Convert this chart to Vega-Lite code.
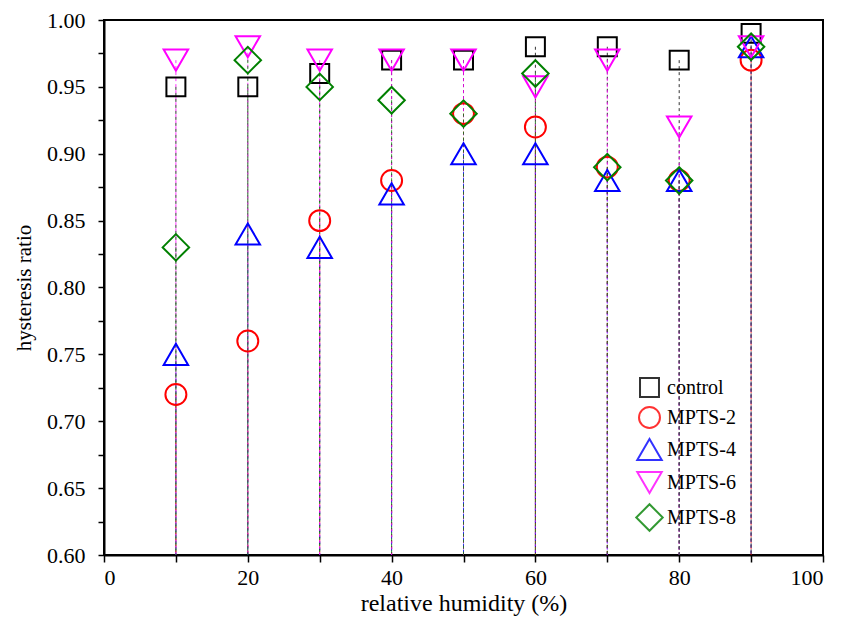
{
  "$schema": "https://vega.github.io/schema/vega-lite/v6.json",
  "width": 719,
  "height": 535,
  "autosize": {"type": "none"},
  "padding": {"left": 104, "top": 20, "right": 20, "bottom": 68},
  "background": "white",
  "config": {
    "font": "Liberation Serif, Times New Roman, serif",
    "view": {"stroke": "black", "strokeWidth": 2}
  },
  "data": {"values": [
    {"rh": 10, "series": "control", "ratio": 0.95},
    {"rh": 20, "series": "control", "ratio": 0.95},
    {"rh": 30, "series": "control", "ratio": 0.96},
    {"rh": 40, "series": "control", "ratio": 0.97},
    {"rh": 50, "series": "control", "ratio": 0.97},
    {"rh": 60, "series": "control", "ratio": 0.98},
    {"rh": 70, "series": "control", "ratio": 0.98},
    {"rh": 80, "series": "control", "ratio": 0.97},
    {"rh": 90, "series": "control", "ratio": 0.99},
    {"rh": 10, "series": "MPTS-2", "ratio": 0.72},
    {"rh": 20, "series": "MPTS-2", "ratio": 0.76},
    {"rh": 30, "series": "MPTS-2", "ratio": 0.85},
    {"rh": 40, "series": "MPTS-2", "ratio": 0.88},
    {"rh": 50, "series": "MPTS-2", "ratio": 0.93},
    {"rh": 60, "series": "MPTS-2", "ratio": 0.92},
    {"rh": 70, "series": "MPTS-2", "ratio": 0.89},
    {"rh": 80, "series": "MPTS-2", "ratio": 0.88},
    {"rh": 90, "series": "MPTS-2", "ratio": 0.97},
    {"rh": 10, "series": "MPTS-4", "ratio": 0.75},
    {"rh": 20, "series": "MPTS-4", "ratio": 0.84},
    {"rh": 30, "series": "MPTS-4", "ratio": 0.83},
    {"rh": 40, "series": "MPTS-4", "ratio": 0.87},
    {"rh": 50, "series": "MPTS-4", "ratio": 0.90},
    {"rh": 60, "series": "MPTS-4", "ratio": 0.90},
    {"rh": 70, "series": "MPTS-4", "ratio": 0.88},
    {"rh": 80, "series": "MPTS-4", "ratio": 0.88},
    {"rh": 90, "series": "MPTS-4", "ratio": 0.98},
    {"rh": 10, "series": "MPTS-6", "ratio": 0.97},
    {"rh": 20, "series": "MPTS-6", "ratio": 0.98},
    {"rh": 30, "series": "MPTS-6", "ratio": 0.97},
    {"rh": 40, "series": "MPTS-6", "ratio": 0.97},
    {"rh": 50, "series": "MPTS-6", "ratio": 0.97},
    {"rh": 60, "series": "MPTS-6", "ratio": 0.95},
    {"rh": 70, "series": "MPTS-6", "ratio": 0.97},
    {"rh": 80, "series": "MPTS-6", "ratio": 0.92},
    {"rh": 90, "series": "MPTS-6", "ratio": 0.98},
    {"rh": 10, "series": "MPTS-8", "ratio": 0.83},
    {"rh": 20, "series": "MPTS-8", "ratio": 0.97},
    {"rh": 30, "series": "MPTS-8", "ratio": 0.95},
    {"rh": 40, "series": "MPTS-8", "ratio": 0.94},
    {"rh": 50, "series": "MPTS-8", "ratio": 0.93},
    {"rh": 60, "series": "MPTS-8", "ratio": 0.96},
    {"rh": 70, "series": "MPTS-8", "ratio": 0.89},
    {"rh": 80, "series": "MPTS-8", "ratio": 0.88},
    {"rh": 90, "series": "MPTS-8", "ratio": 0.98}
  ]},
  "encoding": {
    "x": {"field": "rh", "type": "quantitative", "scale": {"domain": [0, 100], "nice": false},
      "axis": {"title": "relative humidity (%)", "grid": false, "domainColor": "black", "domainWidth": 2, "tickColor": "black", "tickWidth": 1.5, "labelFont": "Liberation Serif, Times New Roman, serif", "titleFont": "Liberation Serif, Times New Roman, serif", "labelFontSize": 22, "titleFontSize": 24, "titleFontWeight": "normal", "labelColor": "black", "titleColor": "black", "values": [0,10,20,30,40,50,60,70,80,90,100], "labelExpr": "datum.value % 20 == 0 ? datum.label : ''", "tickSize": 7, "labelPadding": 5, "titlePadding": 3}},
    "y": {"field": "ratio", "type": "quantitative", "scale": {"domain": [0.6, 1.0], "nice": false, "zero": false},
      "axis": {"title": "hysteresis ratio", "grid": false, "domainColor": "black", "domainWidth": 2, "tickColor": "black", "tickWidth": 1.5, "labelFont": "Liberation Serif, Times New Roman, serif", "titleFont": "Liberation Serif, Times New Roman, serif", "labelFontSize": 22, "titleFontSize": 21, "titleFontWeight": "normal", "labelColor": "black", "titleColor": "black", "values": [0.6,0.625,0.65,0.675,0.7,0.725,0.75,0.775,0.8,0.825,0.85,0.875,0.9,0.925,0.95,0.975,1.0], "labelExpr": "round(datum.value*40) % 2 == 0 ? format(datum.value, '.2f') : ''", "tickSize": 6, "labelPadding": 13, "titlePadding": 12}},
    "color": {"field": "series", "type": "nominal", "sort": ["control","MPTS-2","MPTS-4","MPTS-6","MPTS-8"],
      "scale": {"domain": ["control","MPTS-2","MPTS-4","MPTS-6","MPTS-8"], "range": ["#000000","#ff0000","#0000ff","#ff00ff","#008000"]},
      "legend": {"title": null, "orient": "none", "legendX": 531, "legendY": 357, "labelFont": "Liberation Serif, Times New Roman, serif", "labelFontSize": 20, "labelColor": "black", "symbolStrokeWidth": 2, "symbolFillColor": "transparent", "rowPadding": 2, "labelOffset": 3}}
  },
  "layer": [
    {
      "mark": {"type": "rule", "strokeWidth": 1, "strokeDash": [3, 3], "opacity": 0.8},
      "encoding": {"y2": {"datum": 0.6}}
    },
    {
      "mark": {"type": "point", "filled": false, "strokeWidth": 2, "opacity": 1},
      "encoding": {
        "shape": {"field": "series", "type": "nominal", "sort": ["control","MPTS-2","MPTS-4","MPTS-6","MPTS-8"],
          "scale": {"domain": ["control","MPTS-2","MPTS-4","MPTS-6","MPTS-8"], "range": ["square","circle","triangle-up","triangle-down","diamond"]}},
        "size": {"field": "series", "type": "nominal", "sort": ["control","MPTS-2","MPTS-4","MPTS-6","MPTS-8"],
          "scale": {"type": "ordinal", "domain": ["control","MPTS-2","MPTS-4","MPTS-6","MPTS-8"], "range": [360, 440, 600, 600, 700]}}
      }
    }
  ]
}
